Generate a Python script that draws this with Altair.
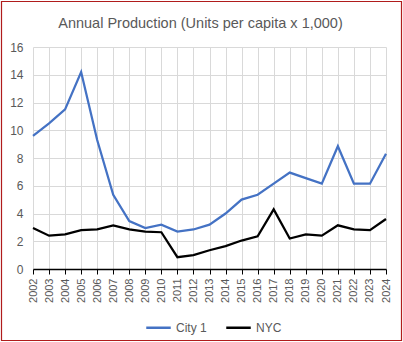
import altair as alt
import pandas as pd

years = list(range(2002, 2025))
city1 = [9.6, 10.5, 11.5, 14.2, 9.3, 5.35, 3.45, 2.95, 3.2, 2.7, 2.85, 3.2, 4.0,
         5.0, 5.35, 6.15, 6.95, 6.55, 6.15, 8.85, 6.15, 6.15, 8.3]
nyc = [2.95, 2.4, 2.5, 2.8, 2.85, 3.15, 2.85, 2.7, 2.65, 0.85, 1.0, 1.35, 1.65,
       2.05, 2.35, 4.3, 2.2, 2.5, 2.4, 3.15, 2.85, 2.8, 3.6]
series_names = ["City 1", "NYC"]
series_colors = ["#4472C4", "#000000"]
y_ticks = list(range(0, 17, 2))

rows = []
for y, a, b in zip(years, city1, nyc):
    rows.append({"Year": y, "Series": "City 1", "Value": a})
    rows.append({"Year": y, "Series": "NYC", "Value": b})
df = pd.DataFrame(rows)

FONT = "Liberation Sans"
GRAY = "#595959"

lines = alt.Chart(df).mark_line(strokeWidth=2.25, clip=False).encode(
    x=alt.X("Year:Q",
            scale=alt.Scale(domain=[2002, 2024], nice=False, zero=False),
            axis=alt.Axis(values=years, format="d", labelAngle=-90,
                          labelAlign="right", labelBaseline="middle",
                          labelPadding=4, tickSize=5, tickColor="#000000",
                          domainColor="#000000", domainWidth=1.3,
                          gridColor="#d9d9d9", labelFontSize=11,
                          labelColor=GRAY, labelFont=FONT, title=None)),
    y=alt.Y("Value:Q",
            scale=alt.Scale(domain=[0, 16], nice=False),
            axis=alt.Axis(values=y_ticks, domain=False, ticks=False,
                          labelPadding=10, gridColor="#d9d9d9",
                          labelFontSize=12, labelColor=GRAY, labelFont=FONT,
                          title=None)),
    color=alt.Color("Series:N",
                    scale=alt.Scale(domain=series_names, range=series_colors),
                    legend=alt.Legend(orient="none", direction="horizontal",
                                      legendX=112, legendY=267, title=None,
                                      symbolType="stroke", symbolStrokeWidth=2.5,
                                      symbolSize=600, labelFontSize=12,
                                      labelColor=GRAY, labelFont=FONT,
                                      columnPadding=14, labelOffset=4)),
)

border = alt.Chart(pd.DataFrame({"b": [0]})).mark_rect(
    fill=None, stroke="#b01c1c", strokeWidth=1.2, clip=False
).encode(
    x=alt.value(-31.5), x2=alt.value(368.5),
    y=alt.value(-45.5), y2=alt.value(293.5)
)

title = alt.Chart(pd.DataFrame({"t": ["Annual Production (Units per capita x 1,000)"]})).mark_text(
    font=FONT, fontSize=14.5, color=GRAY, align="center", baseline="alphabetic"
).encode(
    text="t:N", x=alt.value(167.5), y=alt.value(-19.5)
)

chart = alt.layer(border, lines, title).properties(
    width=353, height=222,
    autosize=alt.AutoSizeParams(type="none"),
    padding={"left": 33, "top": 47, "right": 17, "bottom": 73},
    background="white",
).configure_view(stroke=None)

chart.save("out.html", embed_options={"renderer": "svg", "actions": False})
